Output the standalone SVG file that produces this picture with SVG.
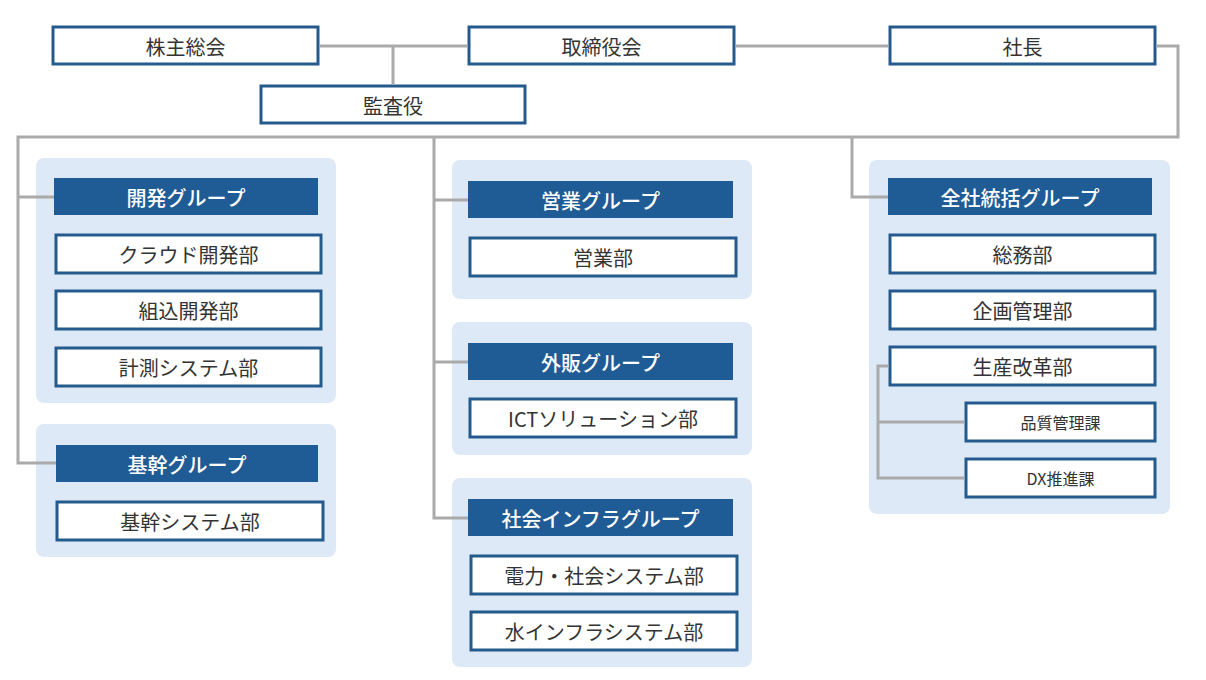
<svg xmlns="http://www.w3.org/2000/svg" width="1206" height="680" viewBox="0 0 1206 680">
<style>
.bg{fill:#dde9f6}
.box{fill:#ffffff;stroke:#245a8c;stroke-width:3}
.hdr{fill:#1f5b95}
.t{font-family:"Noto Sans CJK JP","Noto Sans",sans-serif;font-size:20px;fill:#333333;text-anchor:middle;dominant-baseline:central}
.ts{font-family:"Noto Sans CJK JP","Noto Sans",sans-serif;font-size:16px;fill:#333333;text-anchor:middle;dominant-baseline:central}
.th{font-family:"Noto Sans CJK JP","Noto Sans",sans-serif;font-size:20px;font-weight:500;fill:#ffffff;text-anchor:middle;dominant-baseline:central}
.ln{fill:none;stroke:#aaaaaa;stroke-width:3}
</style>
<rect width="1206" height="680" fill="#ffffff"/>
<g id="kabunushi"><rect class="box" x="53" y="27" width="265" height="37"/><text class="t" x="185.5" y="46">株主総会</text></g>
<g id="torishimariyaku"><rect class="box" x="469" y="27" width="265" height="37"/><text class="t" x="601.5" y="46">取締役会</text></g>
<g id="shacho"><rect class="box" x="890" y="27" width="265" height="37"/><text class="t" x="1022.5" y="46">社長</text></g>
<g id="kansayaku"><rect class="box" x="261" y="86" width="264" height="37"/><text class="t" x="393" y="105">監査役</text></g>

<g id="kaihatsu-group">
<rect class="bg" x="36" y="158" width="300" height="245" rx="8"/>
<rect class="hdr" x="54" y="178" width="264" height="37"/><text class="th" x="186" y="197">開発グループ</text>
</g>
<g id="cloud"><rect class="box" x="56" y="235" width="265" height="38"/><text class="t" x="188.5" y="254">クラウド開発部</text></g>
<g id="kumikomi"><rect class="box" x="56" y="291" width="265" height="38"/><text class="t" x="188.5" y="310">組込開発部</text></g>
<g id="keisoku"><rect class="box" x="56" y="348" width="265" height="38"/><text class="t" x="188.5" y="367">計測システム部</text></g>

<g id="kikan-group">
<rect class="bg" x="36" y="424" width="300" height="133" rx="8"/>
<rect class="hdr" x="56" y="445" width="262" height="37"/><text class="th" x="187" y="464">基幹グループ</text>
</g>
<g id="kikan-sys"><rect class="box" x="57" y="502" width="266" height="38"/><text class="t" x="190" y="521">基幹システム部</text></g>

<g id="eigyo-group">
<rect class="bg" x="452" y="160" width="300" height="139" rx="8"/>
<rect class="hdr" x="468" y="181" width="265" height="37"/><text class="th" x="600.5" y="200">営業グループ</text>
</g>
<g id="eigyo"><rect class="box" x="470" y="238" width="266" height="38"/><text class="t" x="603" y="257">営業部</text></g>

<g id="gaihan-group">
<rect class="bg" x="452" y="322" width="300" height="133" rx="8"/>
<rect class="hdr" x="468" y="343" width="265" height="37"/><text class="th" x="600.5" y="362">外販グループ</text>
</g>
<g id="ict"><rect class="box" x="470" y="399" width="266" height="38"/><text class="t" x="603" y="418">ICTソリューション部</text></g>

<g id="infra-group">
<rect class="bg" x="452" y="478" width="300" height="189" rx="8"/>
<rect class="hdr" x="468" y="499" width="265" height="37"/><text class="th" x="600.5" y="518">社会インフラグループ</text>
</g>
<g id="denryoku"><rect class="box" x="471" y="556" width="266" height="38"/><text class="t" x="604" y="575">電力・社会システム部</text></g>
<g id="mizu"><rect class="box" x="471" y="612" width="266" height="38"/><text class="t" x="604" y="631">水インフラシステム部</text></g>

<g id="zensha-group">
<rect class="bg" x="869" y="160" width="301" height="354" rx="8"/>
<rect class="hdr" x="888" y="178" width="264" height="37"/><text class="th" x="1020" y="197">全社統括グループ</text>
</g>
<g id="somu"><rect class="box" x="890" y="235" width="265" height="38"/><text class="t" x="1022.5" y="254">総務部</text></g>
<g id="kikaku"><rect class="box" x="890" y="291" width="265" height="38"/><text class="t" x="1022.5" y="310">企画管理部</text></g>
<g id="seisan"><rect class="box" x="890" y="347" width="265" height="38"/><text class="t" x="1022.5" y="366">生産改革部</text></g>
<g id="hinshitsu"><rect class="box" x="966" y="403" width="189" height="38"/><text class="ts" x="1060.5" y="422">品質管理課</text></g>
<g id="dx"><rect class="box" x="966" y="459" width="189" height="38"/><text class="ts" x="1060.5" y="478">DX推進課</text></g>

<g id="connectors">
<path class="ln" d="M319.5,46 H467.5 M393,47 V84.5 M735.5,46 H888.5"/>
<path class="ln" d="M1156.5,46 H1178 V137 H18 V463 H56 M18,197 H54"/>
<path class="ln" d="M434,137 V518 H468 M434,200 H468 M434,362 H468"/>
<path class="ln" d="M852,137 V197 H888"/>
<path class="ln" d="M888.5,366 H878 V478 H964.5 M878,422 H964.5"/>
</g>
</svg>
